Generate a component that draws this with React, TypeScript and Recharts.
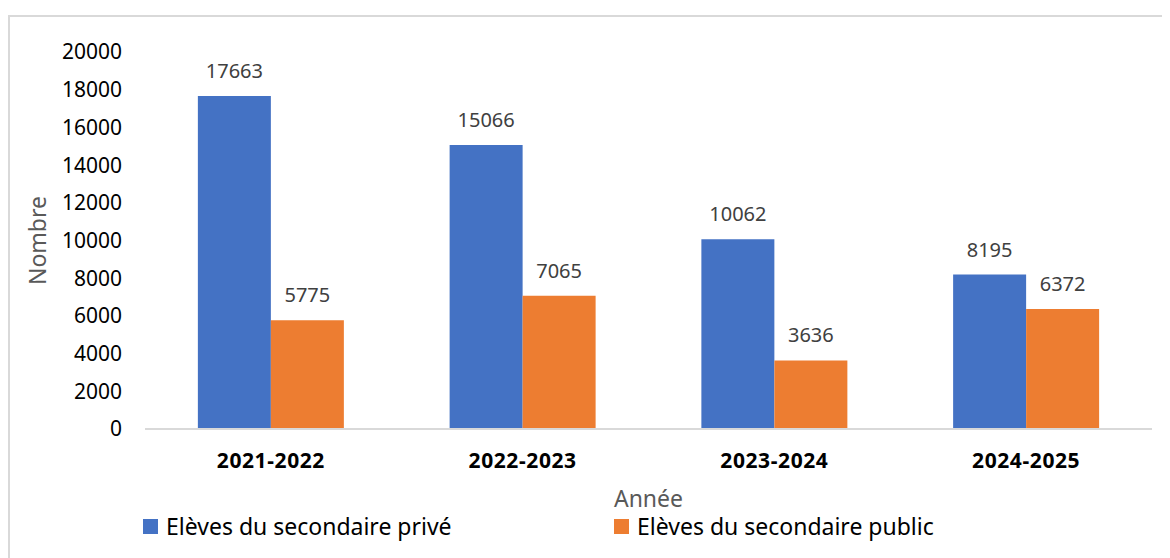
import React from 'react';
import { BarChart, Bar, XAxis, YAxis, Legend, LabelList } from 'recharts';

const annees = ['2021-2022', '2022-2023', '2023-2024', '2024-2025'];
const elevesPrive = [17663, 15066, 10062, 8195];
const elevesPublic = [5775, 7065, 3636, 6372];
const yTicks = [0, 2000, 4000, 6000, 8000, 10000, 12000, 14000, 16000, 18000, 20000];

const seriesNames = ['Elèves du secondaire privé', 'Elèves du secondaire public'];
const seriesColors = ['#4472c4', '#ed7d31'];

const data = annees.map((annee, i) => ({
  annee,
  prive: elevesPrive[i],
  public: elevesPublic[i],
}));

const FONT = '"Noto Sans", sans-serif';

function NombreLabel({ viewBox }: any) {
  const cx = 27;
  const cy = viewBox.y + viewBox.height / 2;
  return (
    <text
      x={cx}
      y={cy}
      transform={`rotate(-90, ${cx}, ${cy})`}
      textAnchor="middle"
      dominantBaseline="central"
      fill="#595959"
      fontSize={23}
      fontFamily={FONT}
    >
      Nombre
    </text>
  );
}

function LegendContent() {
  const lefts = [133, 604];
  return (
    <div style={{ position: 'relative', height: 47, fontFamily: FONT, fontSize: 23, color: '#000' }}>
      {seriesNames.map((name, i) => (
        <div key={name} style={{ position: 'absolute', left: lefts[i], top: 3, height: 24, display: 'flex', alignItems: 'center' }}>
          <span style={{ display: 'inline-block', width: 15, height: 15, background: seriesColors[i], marginRight: 8 }} />
          <span style={{ lineHeight: '24px', whiteSpace: 'nowrap' }}>{name}</span>
        </div>
      ))}
    </div>
  );
}

export default function App() {
  return (
    <div style={{ marginTop: 7, width: 1162, height: 543, overflow: 'hidden' }}>
      <div style={{ width: 1200, height: 600, border: '2px solid #d9d9d9', boxSizing: 'border-box', background: '#fff' }}>
        <BarChart
          width={1158}
          height={541}
          data={data}
          margin={{ top: 35, right: 16, left: 0, bottom: 0 }}
          barCategoryGap="21%"
          barGap={0}
        >
          <XAxis
            dataKey="annee"
            height={82}
            tickLine={false}
            tickSize={0}
            tickMargin={24}
            axisLine={{ stroke: '#d9d9d9', strokeWidth: 2 }}
            tick={{ fill: '#000', fontSize: 21, fontWeight: 700, fontFamily: FONT, letterSpacing: 0.6 }}
            label={{ value: 'Année', position: 'insideBottom', offset: 4, fill: '#595959', fontSize: 23, fontFamily: FONT }}
          />
          <YAxis
            width={135}
            domain={[0, 20000]}
            ticks={yTicks}
            interval={0}
            axisLine={false}
            tickLine={false}
            tickSize={0}
            tickMargin={23}
            tick={{ fill: '#000', fontSize: 21, fontFamily: FONT }}
            label={<NombreLabel />}
          />
          <Legend verticalAlign="bottom" align="left" wrapperStyle={{ left: 0, width: 1158 }} content={<LegendContent />} />
          <Bar dataKey="prive" name={seriesNames[0]} fill={seriesColors[0]} isAnimationActive={false}>
            <LabelList dataKey="prive" position="top" offset={18} fill="#404040" fontSize={20} fontFamily={FONT} />
          </Bar>
          <Bar dataKey="public" name={seriesNames[1]} fill={seriesColors[1]} isAnimationActive={false}>
            <LabelList dataKey="public" position="top" offset={18} fill="#404040" fontSize={20} fontFamily={FONT} />
          </Bar>
        </BarChart>
      </div>
    </div>
  );
}
